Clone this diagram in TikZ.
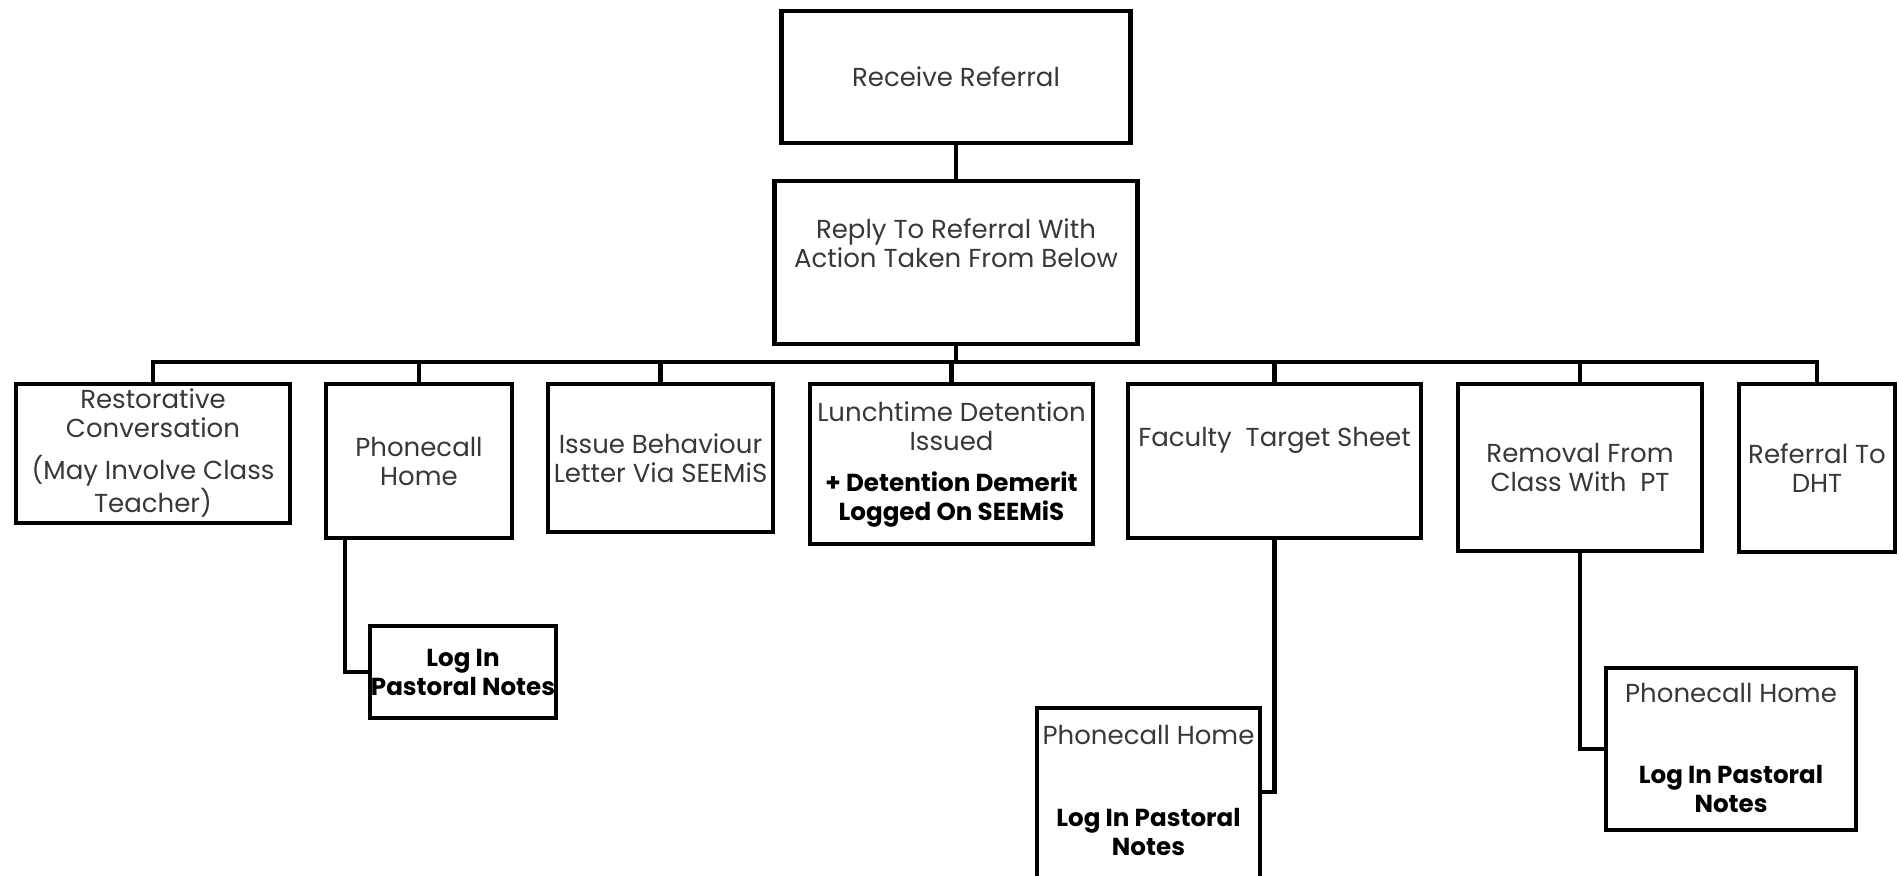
\documentclass[tikz,border=0pt]{standalone}
\usepackage{fontspec}
\setmainfont{Poppins}
\newcommand\mytxt{\fontsize{13}{14.5}\selectfont}
\newcommand\mybold{\fontsize{12.3}{14.5}\selectfont\bfseries\color{black}}
\tikzset{
  box/.style={draw, line width=2.25pt, inner sep=0pt, align=center, font=\mytxt, text=black!78},
  lbl/.style={align=center, inner sep=0pt, font=\mytxt, text=black!78},
  bld/.style={align=center, inner sep=0pt, font=\mybold, text=black},
  conn/.style={line width=2.25pt},
}
\begin{document}
\begin{tikzpicture}[x=0.5pt,y=-0.5pt]
\clip (0,0) rectangle (1899,875);
\fill[white] (0,0) rectangle (1899,875);
% top
\node[box, minimum width=174.5pt, minimum height=66pt] (recv) at (956,77) {Receive Referral};
\node[box, minimum width=181.5pt, minimum height=81.5pt] (reply) at (956,262.5) {};
\node[lbl] (replytxt) at (956,243) {Reply To Referral With\\Action Taken From Below};
% second row
\node[box, minimum width=137pt, minimum height=69.5pt] (rest) at (153,453.5)
  {Restorative\\Conversation\\[6.5pt](May Involve Class\\Teacher)};
\node[box, minimum width=93pt, minimum height=77pt] (phone) at (419,461) {Phonecall\\Home};
\node[box, minimum width=112.5pt, minimum height=74pt] (issue) at (660.5,458) {Issue Behaviour\\Letter Via SEEMiS};
\node[box, minimum width=141.5pt, minimum height=80pt] (lunch) at (951.5,464)
  {Lunchtime Detention\\Issued\\[6pt]{\mybold + Detention Demerit}\\{\mybold Logged On SEEMiS}};
\node[box, minimum width=146.5pt, minimum height=77pt] (fac) at (1274.5,461) {};
\node[lbl] (factxt) at (1274.5,440) {Faculty\ \ Target Sheet};
\node[box, minimum width=122pt, minimum height=83.5pt] (rem) at (1580,467.5) {Removal From\\Class With\ \ PT};
\node[box, minimum width=78pt, minimum height=84pt] (dht) at (1817,468) {Referral To\\DHT};
% third row
\node[box, minimum width=93pt, minimum height=46pt] (logl) at (463,672) {{\mybold Log In}\\{\mybold Pastoral Notes}};
\node[box, minimum width=111.5pt, minimum height=95pt] (facsub) at (1148.5,803) {};
\node[lbl] (facsubtop) at (1148.5,735) {Phonecall Home};
\node[bld] (facsubbot) at (1148.5,831.5) {Log In Pastoral\\Notes};
\node[box, minimum width=125pt, minimum height=81pt] (remsub) at (1731,749) {};
\node[lbl] (remsubtop) at (1731,693) {Phonecall Home};
\node[bld] (remsubbot) at (1731,788.5) {Log In Pastoral\\Notes};
% connectors
\coordinate (bus) at (956,362);
\draw[conn] (recv.south) -- (reply.north);
\draw[conn] (reply.south) -- (bus);
\foreach \n in {rest,phone,issue,lunch,fac,rem,dht} \draw[conn] (\n.north) |- (bus);
\draw[conn] ([xshift=-37pt]phone.south) |- (logl.west);
\draw[conn] (fac.south) |- ([yshift=5.5pt]facsub.east);
\draw[conn] (rem.south) |- (remsub.west);
\end{tikzpicture}
\end{document}
